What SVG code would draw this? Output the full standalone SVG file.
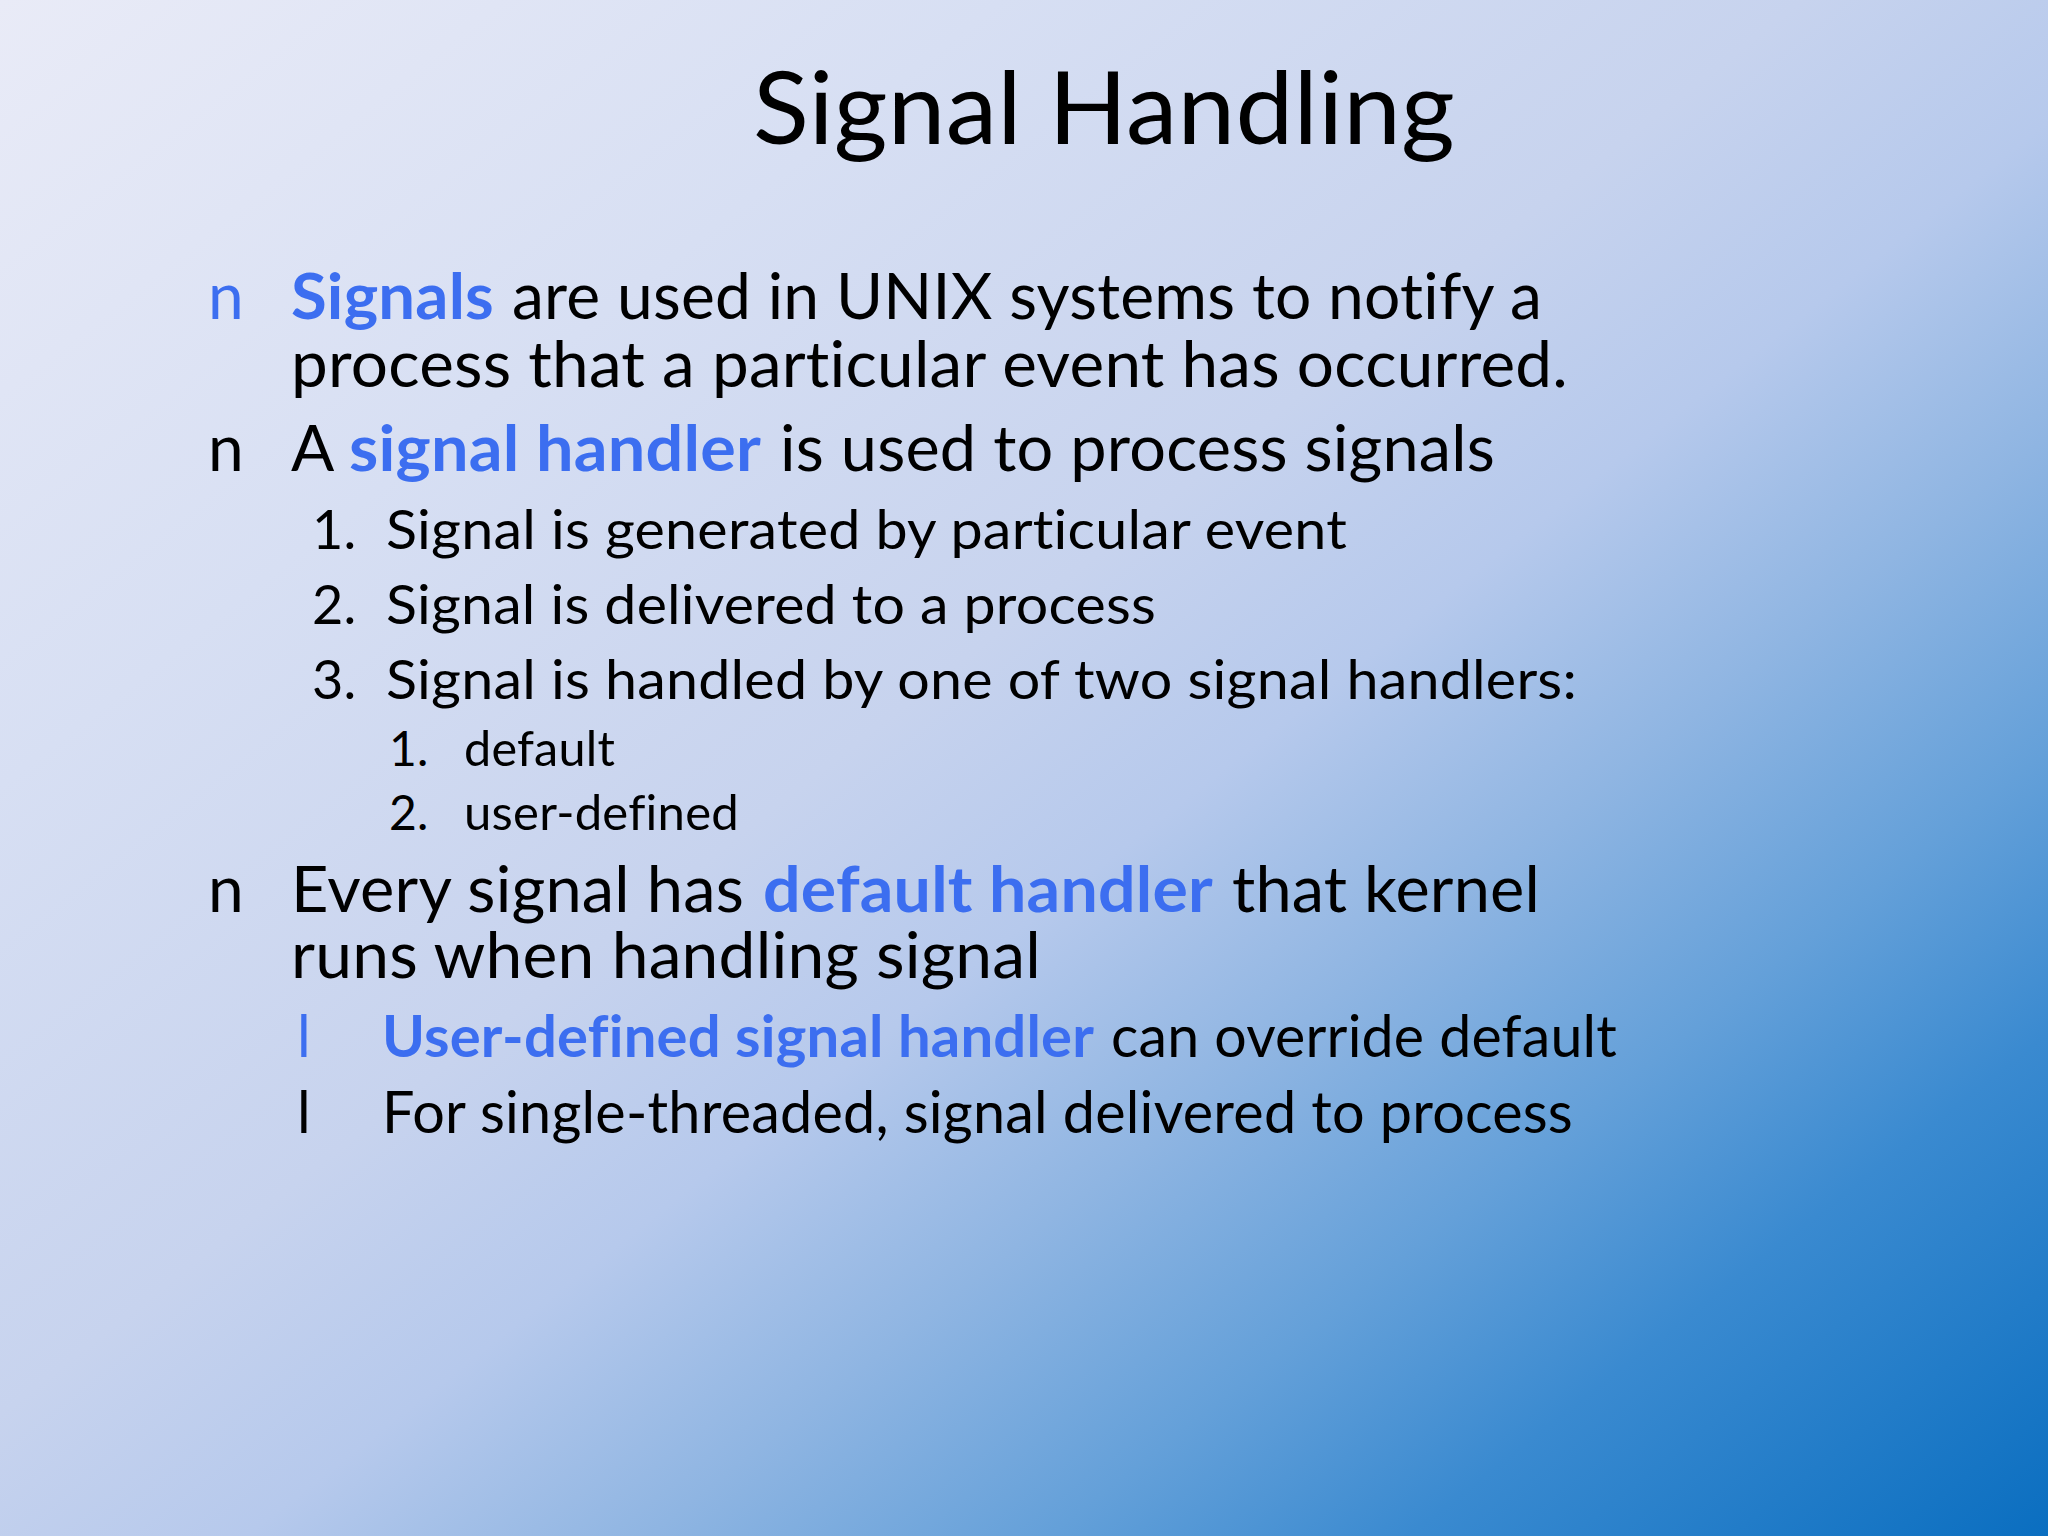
<svg xmlns="http://www.w3.org/2000/svg" width="2048" height="1536" viewBox="0 0 2048 1536">
<defs>
<linearGradient id="bg" gradientUnits="userSpaceOnUse" x1="0" y1="0" x2="1527" y2="1946">
<stop offset="0" stop-color="#E9EBF7"/>
<stop offset="0.25" stop-color="#D7DFF3"/>
<stop offset="0.45" stop-color="#C7D3EE"/>
<stop offset="0.55" stop-color="#B6C9EC"/>
<stop offset="0.65" stop-color="#8FB5E2"/>
<stop offset="0.75" stop-color="#64A0D9"/>
<stop offset="0.84" stop-color="#3A8AD0"/>
<stop offset="1" stop-color="#0A6EC0"/>
</linearGradient>
</defs>
<style>
text{font-family:Lato,"Open Sans","Liberation Sans",sans-serif;fill:#000;font-variant-ligatures:none;font-feature-settings:"liga" 0,"clig" 0,"dlig" 0,"calt" 0;letter-spacing:0.2px}
.t{font-size:100px}
.b1{font-size:64px}
.b2{font-size:54px}
.b3{font-size:48px}
.b4{font-size:58px}
.hl{fill:#3C6EF0;font-weight:bold}
.blue{fill:#3C6EF0}
</style>
<rect x="0" y="0" width="2048" height="1536" fill="url(#bg)"/>
<g id="title">
<text class="t" x="753" y="144" textLength="702" lengthAdjust="spacingAndGlyphs">Signal Handling</text>
</g>
<g id="bullet1">
<text class="b1 blue" x="208" y="319">n</text>
<text class="b1 hl" x="291" y="319" textLength="203" lengthAdjust="spacingAndGlyphs">Signals</text>
<text class="b1" x="512" y="319" textLength="1030" lengthAdjust="spacingAndGlyphs">are used in UNIX systems to notify a</text>
<text class="b1" x="291" y="387" textLength="1277" lengthAdjust="spacingAndGlyphs">process that a particular event has occurred.</text>
</g>
<g id="bullet2">
<text class="b1" x="208" y="471">n</text>
<text class="b1" x="291" y="471">A</text>
<text class="b1 hl" x="349" y="471" textLength="412" lengthAdjust="spacingAndGlyphs">signal handler</text>
<text class="b1" x="780" y="471" textLength="715" lengthAdjust="spacingAndGlyphs">is used to process signals</text>
</g>
<g id="steps">
<text class="b2" x="312" y="549">1.</text>
<text class="b2" x="386" y="549" textLength="961" lengthAdjust="spacingAndGlyphs">Signal is generated by particular event</text>
<text class="b2" x="312" y="624">2.</text>
<text class="b2" x="386" y="624" textLength="770" lengthAdjust="spacingAndGlyphs">Signal is delivered to a process</text>
<text class="b2" x="312" y="699">3.</text>
<text class="b2" x="386" y="699" textLength="1191" lengthAdjust="spacingAndGlyphs">Signal is handled by one of two signal handlers:</text>
</g>
<g id="handlers">
<text class="b3" x="389" y="766">1.</text>
<text class="b3" x="464" y="766" textLength="151" lengthAdjust="spacingAndGlyphs">default</text>
<text class="b3" x="389" y="830">2.</text>
<text class="b3" x="464" y="830" textLength="275" lengthAdjust="spacingAndGlyphs">user-defined</text>
</g>
<g id="bullet3">
<text class="b1" x="208" y="912">n</text>
<text class="b1" x="291" y="912" textLength="453" lengthAdjust="spacingAndGlyphs">Every signal has</text>
<text class="b1 hl" x="763" y="912" textLength="450" lengthAdjust="spacingAndGlyphs">default handler</text>
<text class="b1" x="1232" y="912" textLength="308" lengthAdjust="spacingAndGlyphs">that kernel</text>
<text class="b1" x="291" y="978" textLength="750" lengthAdjust="spacingAndGlyphs">runs when handling signal</text>
</g>
<g id="subbullets">
<text class="b4 blue" x="297" y="1057">l</text>
<text class="b4 hl" x="382" y="1057" textLength="712" lengthAdjust="spacingAndGlyphs">User-defined signal handler</text>
<text class="b4" x="1111" y="1057" textLength="506" lengthAdjust="spacingAndGlyphs">can override default</text>
<text class="b4" x="297" y="1133">l</text>
<text class="b4" x="382" y="1133" textLength="1191" lengthAdjust="spacingAndGlyphs">For single-threaded, signal delivered to process</text>
</g>
</svg>
